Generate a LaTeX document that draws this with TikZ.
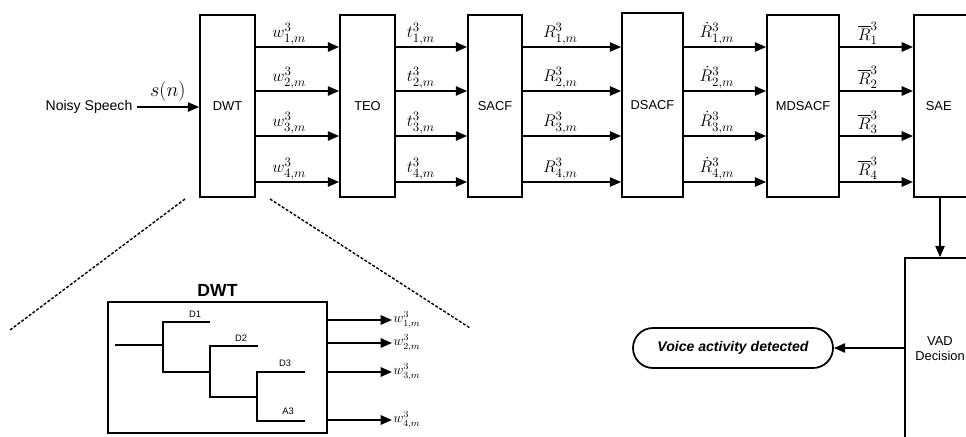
\documentclass[tikz,border=0pt]{standalone}
\usepackage{amsmath,amssymb}
\usepackage{fontspec}
\setmainfont{Liberation Sans}
\usetikzlibrary{positioning,arrows.meta,calc}

\begin{document}
\begin{tikzpicture}[x=0.3mm, y=-0.3mm,
  font=\fontsize{11}{13}\selectfont,
  blk/.style={draw, line width=1.5pt, minimum width=16.5mm, minimum height=54.6mm, inner sep=0pt, align=center},
  arr/.style={-{Triangle[length=3.4mm,width=2.8mm]}, line width=1.5pt},
  lab/.style={pos=0.4, above=0pt, inner sep=1pt, font=\fontsize{15}{17}\selectfont},
  tree/.style={line width=1.4pt},
  zoomln/.style={line width=1.2pt, dash pattern=on 2.5pt off 1.5pt}]
\useasboundingbox (0,0) rectangle (966,436);
\clip (0,0) rectangle (966,436);
\node[font=\fontsize{12}{14}\selectfont] (noisy) at (89,107) {Noisy Speech};
\node[blk] (dwt) at (227.5,106) {DWT};
\node[blk] (teo) at (367.5,106) {TEO};
\node[blk, minimum width=16.2mm] (sacf) at (495,106) {SACF};
\node[blk, minimum width=18.3mm, minimum height=55.2mm] (dsacf) at (652.5,105) {DSACF};
\node[blk, minimum width=21.6mm] (mdsacf) at (803,106) {MDSACF};
\node[blk, anchor=west, text width=16.8mm, inner xsep=3.6mm, align=left] (sae) at (913,106) {SAE};
\node[blk, minimum width=21mm] (vad) at (940,349) {VAD\\Decision};
\node[draw, line width=1.5pt, rounded corners=6mm, minimum width=60mm, minimum height=12mm, font=\fontsize{12}{14}\selectfont\bfseries\itshape] (voice) at (733,348) {Voice activity detected};
\draw[arr] (noisy.east) -- node[midway, above=1pt, font=\fontsize{17}{19}\selectfont]{$s(n)$} (dwt.west |- noisy);
\draw[arr] (dwt.east |- 0,47) -- node[lab]{$w^3_{1,m}$} (teo.west |- 0,47);
\draw[arr] (dwt.east |- 0,91) -- node[lab]{$w^3_{2,m}$} (teo.west |- 0,91);
\draw[arr] (dwt.east |- 0,136) -- node[lab]{$w^3_{3,m}$} (teo.west |- 0,136);
\draw[arr] (dwt.east |- 0,182) -- node[lab]{$w^3_{4,m}$} (teo.west |- 0,182);
\draw[arr] (teo.east |- 0,47) -- node[lab, pos=0.35]{$t^3_{1,m}$} (sacf.west |- 0,47);
\draw[arr] (teo.east |- 0,91) -- node[lab, pos=0.35]{$t^3_{2,m}$} (sacf.west |- 0,91);
\draw[arr] (teo.east |- 0,136) -- node[lab, pos=0.35]{$t^3_{3,m}$} (sacf.west |- 0,136);
\draw[arr] (teo.east |- 0,182) -- node[lab, pos=0.35]{$t^3_{4,m}$} (sacf.west |- 0,182);
\draw[arr] (sacf.east |- 0,47) -- node[lab, pos=0.38]{$R^3_{1,m}$} (dsacf.west |- 0,47);
\draw[arr] (sacf.east |- 0,91) -- node[lab, pos=0.38]{$R^3_{2,m}$} (dsacf.west |- 0,91);
\draw[arr] (sacf.east |- 0,136) -- node[lab, pos=0.38]{$R^3_{3,m}$} (dsacf.west |- 0,136);
\draw[arr] (sacf.east |- 0,182) -- node[lab, pos=0.38]{$R^3_{4,m}$} (dsacf.west |- 0,182);
\draw[arr] (dsacf.east |- 0,47) -- node[lab]{$\dot{R}^3_{1,m}$} (mdsacf.west |- 0,47);
\draw[arr] (dsacf.east |- 0,91) -- node[lab]{$\dot{R}^3_{2,m}$} (mdsacf.west |- 0,91);
\draw[arr] (dsacf.east |- 0,136) -- node[lab]{$\dot{R}^3_{3,m}$} (mdsacf.west |- 0,136);
\draw[arr] (dsacf.east |- 0,182) -- node[lab]{$\dot{R}^3_{4,m}$} (mdsacf.west |- 0,182);
\draw[arr] (mdsacf.east |- 0,47) -- node[lab, pos=0.38]{$\overline{R}^3_1$} (sae.west |- 0,47);
\draw[arr] (mdsacf.east |- 0,91) -- node[lab, pos=0.38]{$\overline{R}^3_2$} (sae.west |- 0,91);
\draw[arr] (mdsacf.east |- 0,136) -- node[lab, pos=0.38]{$\overline{R}^3_3$} (sae.west |- 0,136);
\draw[arr] (mdsacf.east |- 0,182) -- node[lab, pos=0.38]{$\overline{R}^3_4$} (sae.west |- 0,182);
\draw[arr] (sae.south -| vad.north) -- (vad.north);
\draw[arr] (vad.west |- voice) -- (voice.east);
% zoomed view of the DWT block
\coordinate (zl) at (185,199);
\coordinate (zr) at (270,199);
\coordinate (zle) at (10,330);
\coordinate (zre) at (470,328);
\draw[zoomln] (zl) -- (zle);
\draw[zoomln] (zr) -- (zre);
\node[draw, line width=1.5pt, minimum width=65.7mm, minimum height=39.3mm] (dwtin) at (217.5,367.5) {};
\node[font=\fontsize{15}{17}\selectfont\bfseries, above=0pt of dwtin] (dwttl) {DWT};
\draw[tree] (115,345) -- (163,345) (210,322) -| (163,372) -- (210,372);
\draw[tree] (258,346) -| (210,397) -- (257,397);
\draw[tree] (305,372) -| (257,421) -- (305,421);
\node[font=\footnotesize] (d1) at (195,314) {D1};
\node[font=\footnotesize] (d2) at (241,338) {D2};
\node[font=\footnotesize] (d3) at (285,363) {D3};
\node[font=\footnotesize] (a3) at (288,411) {A3};
\node[anchor=west, inner sep=1pt, font=\large] (w1) at (392,320) {$w^3_{1,m}$};
\node[anchor=west, inner sep=1pt, font=\large] (w2) at (392,343) {$w^3_{2,m}$};
\node[anchor=west, inner sep=1pt, font=\large] (w3) at (392,372) {$w^3_{3,m}$};
\node[anchor=west, inner sep=1pt, font=\large] (w4) at (392,420) {$w^3_{4,m}$};
\draw[arr] (dwtin.east |- w1) -- (w1.west);
\draw[arr] (dwtin.east |- w2) -- (w2.west);
\draw[arr] (dwtin.east |- w3) -- (w3.west);
\draw[arr] (dwtin.east |- w4) -- (w4.west);
\end{tikzpicture}
\end{document}
